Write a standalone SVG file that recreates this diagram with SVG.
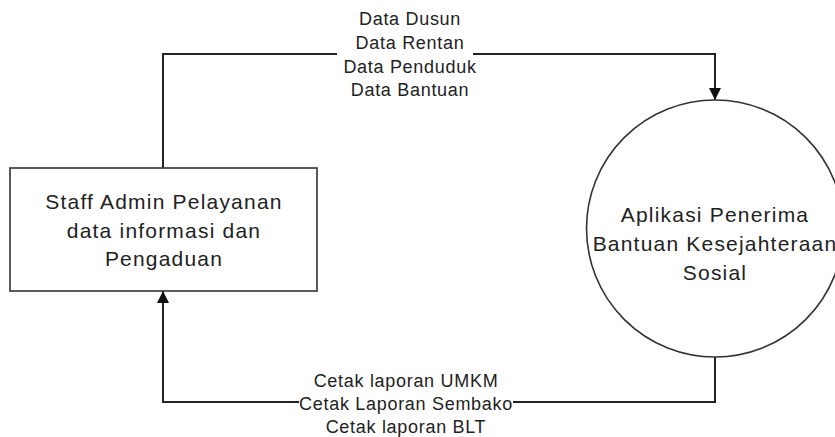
<svg xmlns="http://www.w3.org/2000/svg" width="835" height="437" viewBox="0 0 835 437">
<style>
.node{fill:#fff;stroke:#333;stroke-width:1.6}
.conn{fill:none;stroke:#222;stroke-width:2}
.t{font-family:"Liberation Sans",Arial,sans-serif;font-size:21px;letter-spacing:1.2px;fill:#222;text-anchor:middle}
.l{font-family:"Liberation Sans",Arial,sans-serif;font-size:18px;letter-spacing:0.7px;fill:#222;text-anchor:middle}
.bg{fill:#fff;stroke:none}
</style>
<defs>
<marker id="arr" viewBox="0 0 12 12" refX="12" refY="6" markerWidth="12" markerHeight="12" markerUnits="userSpaceOnUse" orient="auto">
<path d="M0,0 L12,6 L0,12 z" fill="#111"/>
</marker>
</defs>
<rect width="835" height="437" fill="#fff"/>
<g id="connectors">
<path class="conn" d="M163,168 L163,54 L715,54 L715,100" marker-end="url(#arr)"/>
<path class="conn" d="M715,357 L715,402 L163,402 L163,291" marker-end="url(#arr)"/>
<g id="label-top">
<rect class="bg" x="337" y="46" width="136" height="15"/>
<text class="l" x="410" y="25">Data Dusun</text>
<text class="l" x="410" y="49">Data Rentan</text>
<text class="l" x="410" y="73">Data Penduduk</text>
<text class="l" x="410" y="96">Data Bantuan</text>
</g>
<g id="label-bottom">
<rect class="bg" x="299" y="395" width="214" height="15"/>
<text class="l" x="406" y="387">Cetak laporan UMKM</text>
<text class="l" x="406" y="410">Cetak Laporan Sembako</text>
<text class="l" x="406" y="433">Cetak laporan BLT</text>
</g>
</g>
<g id="staff">
<rect class="node" x="10" y="168" width="307" height="123"/>
<text class="t" x="164" y="209">Staff Admin Pelayanan</text>
<text class="t" x="164" y="238">data informasi dan</text>
<text class="t" x="164" y="266">Pengaduan</text>
</g>
<g id="aplikasi">
<circle class="node" cx="715" cy="228.5" r="128.5"/>
<text class="t" x="715" y="222">Aplikasi Penerima</text>
<text class="t" x="715" y="251">Bantuan Kesejahteraan</text>
<text class="t" x="715" y="280">Sosial</text>
</g>
</svg>
